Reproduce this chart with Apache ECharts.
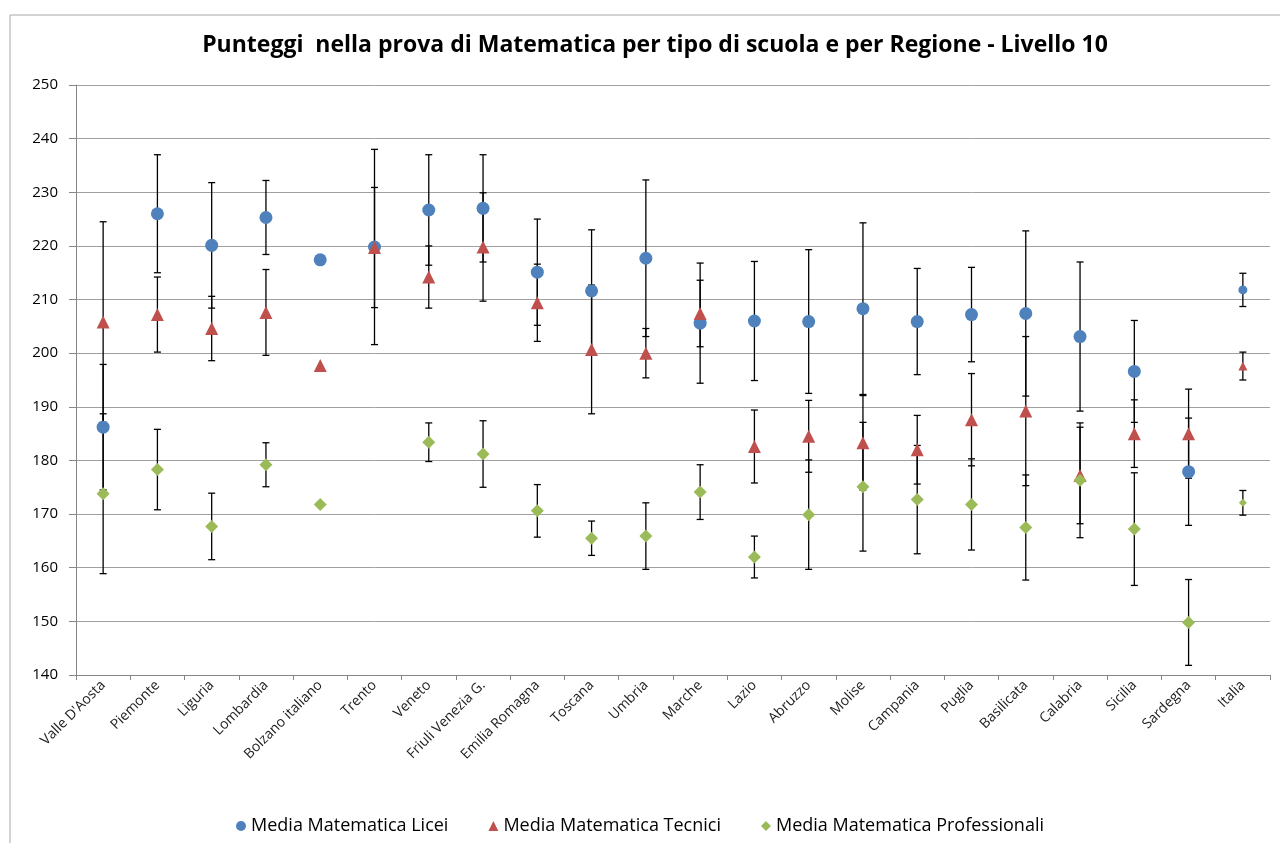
<!DOCTYPE html>
<html>
<head>
<meta charset="utf-8">
<script src="https://cdn.jsdelivr.net/npm/echarts@6/dist/echarts.min.js"></script>
<style>
html,body{margin:0;padding:0;background:#fff;}
#chart{width:1280px;height:843px;}
</style>
</head>
<body>
<div id="chart"></div>
<script>
const categories = ["Valle D'Aosta","Piemonte","Liguria","Lombardia","Bolzano italiano","Trento","Veneto","Friuli Venezia G.","Emilia Romagna","Toscana","Umbria","Marche","Lazio","Abruzzo","Molise","Campania","Puglia","Basilicata","Calabria","Sicilia","Sardegna","Italia"];
const yTicks = [140,150,160,170,180,190,200,210,220,230,240,250];

const liceiMean = [186.2,226.0,220.1,225.3,217.4,219.8,226.7,227.0,215.1,211.6,217.7,205.6,206.0,205.9,208.3,205.9,207.2,207.4,203.1,196.6,177.9,211.8];
const liceiErr  = [11.7,11.0,11.7,6.9,0,18.2,10.3,10.0,9.9,11.4,14.6,11.2,11.1,13.4,16.0,9.9,8.8,15.4,13.9,9.5,10.0,3.1];

const tecniciMean = [205.8,207.2,204.6,207.6,197.7,219.7,214.2,219.8,209.4,200.7,200.0,207.4,182.6,184.5,183.3,182.0,187.6,189.2,177.2,185.0,185.0,197.6];
const tecniciErr  = [18.7,7.0,6.0,8.0,0,11.2,5.8,10.1,7.2,12.0,4.6,6.2,6.8,6.7,8.8,6.4,8.6,13.9,9.0,6.3,8.3,2.6];

const profMean = [173.8,178.3,167.7,179.2,171.8,null,183.4,181.2,170.6,165.5,165.9,174.1,162.0,169.9,175.1,172.7,171.8,167.5,176.3,167.2,149.8,172.1];
const profErr  = [14.9,7.5,6.2,4.1,0,null,3.6,6.2,4.9,3.2,6.2,5.1,3.9,10.2,12.0,10.1,8.5,9.8,10.7,10.5,8.0,2.3];

const seriesNames = ["Media Matematica Licei","Media Matematica Tecnici","Media Matematica Professionali"];
const colors = ["#4F81BD","#C0504D","#9BBB59"];
const FONT = "'Open Sans', 'Liberation Sans', sans-serif";

function errData(mean, err){
  const out = [];
  mean.forEach((m,i)=>{
    if (m != null && err[i] != null && err[i] > 0) out.push([i, m - err[i], m + err[i]]);
  });
  return out;
}

function renderErr(params, api){
  const i = api.value(0);
  const lo = api.coord([i, api.value(1)]);
  const hi = api.coord([i, api.value(2)]);
  const w = 3.5;
  const st = {stroke:'#000', lineWidth:1.3};
  return {type:'group', children:[
    {type:'line', shape:{x1:lo[0],y1:lo[1],x2:hi[0],y2:hi[1]}, style:st},
    {type:'line', shape:{x1:lo[0]-w,y1:lo[1],x2:lo[0]+w,y2:lo[1]}, style:st},
    {type:'line', shape:{x1:hi[0]-w,y1:hi[1],x2:hi[0]+w,y2:hi[1]}, style:st}
  ]};
}

const symbols = ['circle','triangle','diamond'];
const bigSizes = [13,13,13];
const smallSizes = [9,9,8];
const means = [liceiMean, tecniciMean, profMean];
const errs = [liceiErr, tecniciErr, profErr];

const series = [];
for (let s=0; s<3; s++){
  series.push({
    type:'custom', name: seriesNames[s]+'_err', renderItem: renderErr,
    data: errData(means[s], errs[s]), z: 2, silent:true,
    encode:{x:0, y:[1,2]}
  });
}
for (let s=0; s<3; s++){
  series.push({
    type:'scatter', name: seriesNames[s], data: means[s],
    symbol: symbols[s],
    symbolSize: (v, p) => p.dataIndex === categories.length-1 ? smallSizes[s] : bigSizes[s],
    itemStyle:{color: colors[s], opacity:1},
    z: 5+s
  });
}

const chart = echarts.init(document.getElementById('chart'), null, {renderer:'canvas'});
chart.setOption({
  animation:false,
  backgroundColor:'#fff',
  title:{
    text:'Punteggi  nella prova di Matematica per tipo di scuola e per Regione - Livello 10',
    left: 650, top: 29, textAlign:'center',
    textStyle:{fontFamily:FONT, fontSize:23, fontWeight:'bold', color:'#000'}
  },
  graphic:[{type:'rect', shape:{x:10,y:15,width:1300,height:900}, style:{fill:'none', stroke:'#a6a6a6', lineWidth:1}, silent:true, z:-1}],
  legend:{
    data: seriesNames.map((n,i)=>({name:n, icon:symbols[i]})),
    left: 'center', top: 812, itemWidth:10, itemHeight:10, itemGap:40,
    textStyle:{fontFamily:FONT, fontSize:18, color:'#000'}
  },
  grid:{left:76, right:10, top:85, bottom:168, containLabel:false},
  xAxis:{
    type:'category', data: categories, boundaryGap:true,
    axisLine:{lineStyle:{color:'#868686', width:1}},
    axisTick:{show:true, length:5, lineStyle:{color:'#868686'}},
    axisLabel:{rotate:45, fontFamily:FONT, fontSize:14, color:'#222', margin:8, interval:0},
    splitLine:{show:false}
  },
  yAxis:{
    type:'value', min: yTicks[0], max: yTicks[yTicks.length-1], interval:10,
    axisLine:{show:true, lineStyle:{color:'#868686'}},
    axisTick:{show:true, length:7, lineStyle:{color:'#868686'}},
    axisLabel:{fontFamily:FONT, fontSize:15, color:'#000', margin:18},
    splitLine:{lineStyle:{color:'#a0a0a0', width:1}}
  },
  series: series
});
</script>
</body>
</html>
